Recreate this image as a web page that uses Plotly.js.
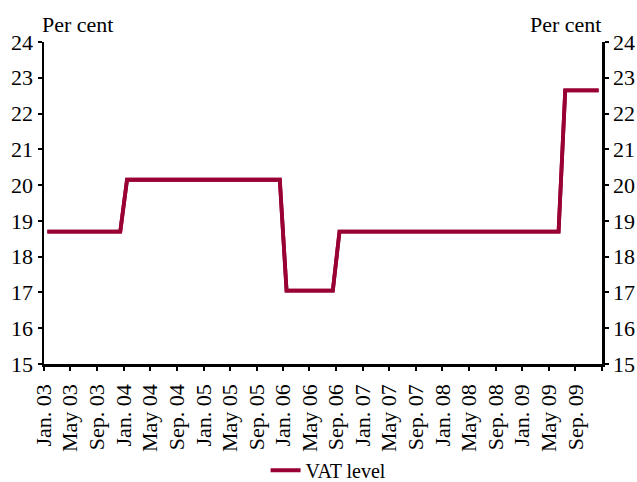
<!DOCTYPE html>
<html>
<head>
<meta charset="utf-8">
<script src="https://cdn.plot.ly/plotly-3.0.1.min.js"></script>
<style>
  html, body { margin: 0; padding: 0; background: #fff; }
  #chart { width: 637px; height: 482px; }
</style>
</head>
<body>
<div id="chart"></div>
<script>
// Monthly VAT level, Jan 2003 – Dec 2009 (per cent)
const months = [];
for (let y = 2003; y <= 2009; y++) {
  for (let m = 1; m <= 12; m++) months.push(y + '-' + String(m).padStart(2, '0'));
}
const vatLevel = [
  // 2003
  18.7, 18.7, 18.7, 18.7, 18.7, 18.7, 18.7, 18.7, 18.7, 18.7, 18.7, 18.7,
  // 2004
  20.15, 20.15, 20.15, 20.15, 20.15, 20.15, 20.15, 20.15, 20.15, 20.15, 20.15, 20.15,
  // 2005
  20.15, 20.15, 20.15, 20.15, 20.15, 20.15, 20.15, 20.15, 20.15, 20.15, 20.15, 20.15,
  // 2006
  17.05, 17.05, 17.05, 17.05, 17.05, 17.05, 17.05, 17.05, 18.7, 18.7, 18.7, 18.7,
  // 2007
  18.7, 18.7, 18.7, 18.7, 18.7, 18.7, 18.7, 18.7, 18.7, 18.7, 18.7, 18.7,
  // 2008
  18.7, 18.7, 18.7, 18.7, 18.7, 18.7, 18.7, 18.7, 18.7, 18.7, 18.7, 18.7,
  // 2009
  18.7, 18.7, 18.7, 18.7, 18.7, 18.7, 22.65, 22.65, 22.65, 22.65, 22.65, 22.65
];

// Axis ticks every four months
const tickDates = [];
const tickLabels = [];
const monNames = { 1: 'Jan. ', 5: 'May ', 9: 'Sep. ' };
for (let y = 2003; y <= 2009; y++) {
  for (const m of [1, 5, 9]) {
    tickDates.push(y + '-' + String(m).padStart(2, '0') + '-01');
    tickLabels.push(monNames[m] + String(y).slice(2));
  }
}
tickDates.push('2010-01-01');
tickLabels.push('');

const yTicks = [15, 16, 17, 18, 19, 20, 21, 22, 23, 24];

const FONT = 'Liberation Serif';
const LINE_COLOR = '#990033';

const traces = [
  {
    x: months, y: vatLevel,
    xperiod: 'M1', xperiodalignment: 'middle',
    type: 'scatter', mode: 'lines',
    name: 'VAT level',
    line: { color: LINE_COLOR, width: 3.8 },
    hoverinfo: 'x+y'
  },
  {
    // same series on the right-hand scale so it is rendered
    x: months, y: vatLevel,
    xperiod: 'M1', xperiodalignment: 'middle',
    type: 'scatter', mode: 'lines',
    yaxis: 'y2', showlegend: false, hoverinfo: 'skip',
    line: { color: LINE_COLOR, width: 3.8 }
  }
];

const yAxisBase = {
  range: [15, 24],
  tickmode: 'array', tickvals: yTicks, ticktext: yTicks.map(String),
  showgrid: false, zeroline: false,
  showline: true, linecolor: '#000', linewidth: 2.5,
  ticks: 'outside', ticklen: 4, tickwidth: 2, tickcolor: '#000',
  tickfont: { family: FONT, size: 22, color: '#000' },
  fixedrange: true
};

const layout = {
  width: 637, height: 482,
  margin: { l: 44, r: 35, t: 42, b: 118, autoexpand: false },
  paper_bgcolor: '#fff', plot_bgcolor: '#fff',
  font: { family: FONT, size: 22, color: '#000' },
  showlegend: true,
  legend: {
    orientation: 'h', x: 0.51, xanchor: 'center', y: -0.33, yanchor: 'middle',
    bgcolor: 'rgba(0,0,0,0)',
    font: { family: FONT, size: 20, color: '#000' },
    itemwidth: 30
  },
  xaxis: {
    type: 'date',
    range: ['2003-01-01', '2010-01-01'],
    tickmode: 'array', tickvals: tickDates, ticktext: tickLabels,
    tickangle: -90,
    ticklabelstandoff: 5,
    showgrid: false, zeroline: false,
    showline: true, linecolor: '#000', linewidth: 2.5,
    ticks: 'outside', ticklen: 4, tickwidth: 2, tickcolor: '#000',
    tickfont: { family: FONT, size: 22, color: '#000' },
    fixedrange: true
  },
  yaxis: Object.assign({}, yAxisBase, { side: 'left' }),
  yaxis2: Object.assign({}, yAxisBase, { side: 'right', overlaying: 'y' }),
  annotations: [
    { text: 'Per cent', xref: 'paper', yref: 'paper', x: 0, y: 1, xanchor: 'left', yanchor: 'bottom',
      xshift: -4, yshift: 3, showarrow: false, font: { family: FONT, size: 22, color: '#000' } },
    { text: 'Per cent', xref: 'paper', yref: 'paper', x: 1, y: 1, xanchor: 'right', yanchor: 'bottom',
      xshift: 1, yshift: 3, showarrow: false, font: { family: FONT, size: 22, color: '#000' } }
  ]
};

Plotly.newPlot('chart', traces, layout, { displayModeBar: false, staticPlot: true });
</script>
</body>
</html>
